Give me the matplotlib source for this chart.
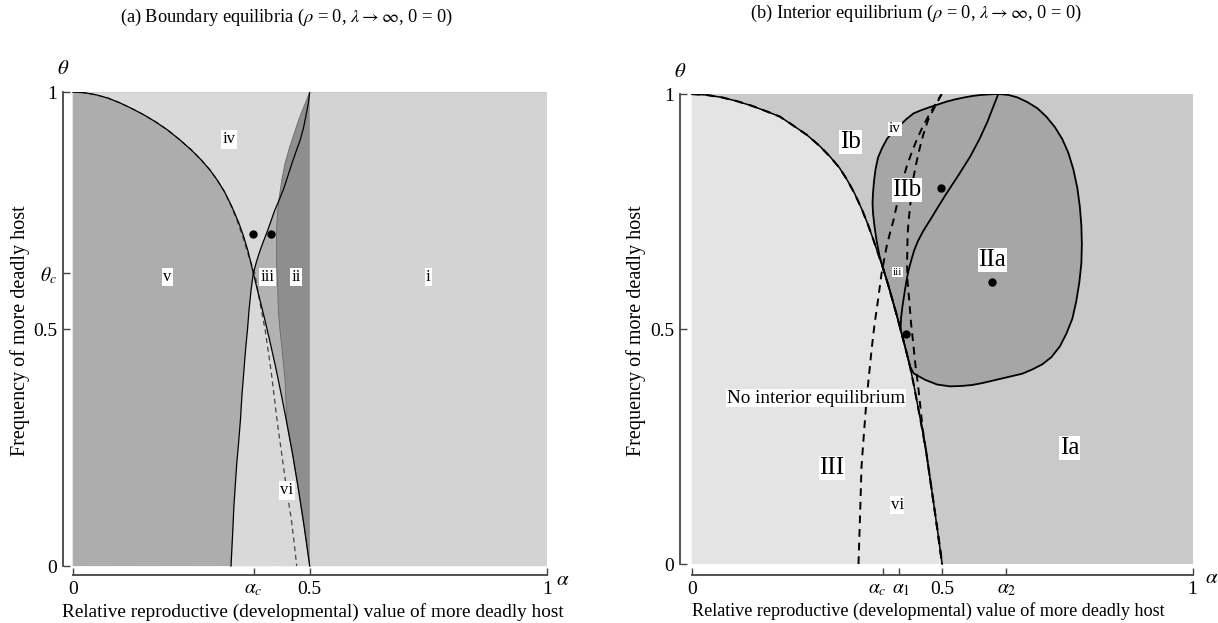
import matplotlib
matplotlib.use('Agg')
import matplotlib.pyplot as plt
from matplotlib.patches import Polygon
from matplotlib.transforms import ScaledTranslation

plt.rcParams['font.family'] = ['Liberation Serif', 'DejaVu Serif']
plt.rcParams['mathtext.fontset'] = 'stix'

# ---------------- data: panel (a) ----------------
# curve A: boundary from (0,1) to (0.5,0)
A_alpha = [0.000, 0.025, 0.050, 0.075, 0.100, 0.125, 0.150, 0.175, 0.200, 0.225, 0.250,
           0.270, 0.290, 0.305, 0.320, 0.335, 0.350, 0.360, 0.370, 0.381,
           0.392, 0.404, 0.416, 0.428, 0.440, 0.452, 0.464, 0.476, 0.488, 0.500]
A_theta = [1.000, 0.9985, 0.994, 0.987, 0.977, 0.965, 0.952, 0.937, 0.920, 0.900, 0.878,
           0.858, 0.835, 0.814, 0.790, 0.760, 0.725, 0.697, 0.664, 0.618,
           0.573, 0.525, 0.474, 0.420, 0.362, 0.300, 0.235, 0.163, 0.085, 0.000]
A_cross = 19  # index of (alpha_c, theta_c)
# curve B: rising boundary from (0.334,0) to (0.5,1)
B_alpha = [0.334, 0.336, 0.338, 0.340, 0.343, 0.346, 0.350, 0.354, 0.357, 0.361, 0.365,
           0.369, 0.372, 0.376, 0.381, 0.388, 0.395, 0.402, 0.409, 0.418, 0.426, 0.435,
           0.444, 0.453, 0.462, 0.471, 0.480, 0.487, 0.492, 0.497, 0.500]
B_theta = [0.000, 0.040, 0.080, 0.125, 0.170, 0.215, 0.260, 0.310, 0.360, 0.410, 0.460,
           0.502, 0.540, 0.580, 0.618, 0.643, 0.665, 0.684, 0.702, 0.727, 0.750, 0.771,
           0.793, 0.820, 0.848, 0.874, 0.899, 0.925, 0.950, 0.976, 1.000]
B_cross = 14
# curve C: left edge of darkest region ii
C_alpha = [0.500, 0.478, 0.458, 0.448, 0.441, 0.436, 0.432, 0.430, 0.430, 0.430, 0.432,
           0.434, 0.437, 0.441, 0.448, 0.452, 0.464, 0.476, 0.488, 0.500]
C_theta = [1.000, 0.945, 0.885, 0.850, 0.814, 0.780, 0.745, 0.710, 0.674, 0.638, 0.603,
           0.534, 0.500, 0.463, 0.392, 0.300, 0.235, 0.163, 0.085, 0.000]
# dashed curve D (runs on top of A in its upper part)
D_alpha = [0.000, 0.025, 0.050, 0.075, 0.100, 0.125, 0.150, 0.175, 0.200, 0.225, 0.250,
           0.270, 0.290, 0.305, 0.320, 0.334, 0.347, 0.358, 0.368, 0.376, 0.384,
           0.390, 0.396, 0.401, 0.406, 0.413, 0.420, 0.426, 0.432, 0.439, 0.446, 0.453,
           0.461, 0.467, 0.4726]
D_theta = [1.000, 0.9985, 0.994, 0.987, 0.977, 0.965, 0.952, 0.937, 0.920, 0.900, 0.878,
           0.858, 0.835, 0.814, 0.790, 0.760, 0.728, 0.697, 0.664, 0.640, 0.618,
           0.584, 0.550, 0.524, 0.498, 0.450, 0.400, 0.350, 0.300, 0.250, 0.200, 0.150,
           0.100, 0.050, 0.000]
dotsL_alpha = [0.381, 0.419]
dotsL_theta = [0.700, 0.700]
labelsL = [("iv", 0.330, 0.900), ("v", 0.200, 0.610), ("iii", 0.411, 0.610),
           ("ii", 0.472, 0.610), ("i", 0.750, 0.610), ("vi", 0.452, 0.160)]
xticksL = [0, 0.382, 0.5, 1]
xtlabL = ["0", r"$\alpha_c$", "0.5", "1"]
yticksL = [0, 0.5, 0.618, 1]
ytlabL = ["0", "0.5", r"$\theta_c$", "1"]

# ---------------- data: panel (b) ----------------
RA_alpha = [0.000, 0.030, 0.060, 0.090, 0.120, 0.150, 0.176, 0.200, 0.230, 0.255, 0.276,
            0.295, 0.310, 0.325, 0.340, 0.352, 0.363, 0.373, 0.383, 0.392, 0.400, 0.409,
            0.418, 0.427, 0.436, 0.444, 0.452, 0.460, 0.468, 0.476, 0.484, 0.492, 0.500]
RA_theta = [1.000, 0.998, 0.993, 0.985, 0.975, 0.963, 0.952, 0.935, 0.913, 0.890, 0.867,
            0.843, 0.818, 0.789, 0.754, 0.722, 0.689, 0.658, 0.626, 0.595, 0.565, 0.531,
            0.495, 0.458, 0.420, 0.378, 0.333, 0.288, 0.240, 0.181, 0.122, 0.062, 0.000]
RB_alpha = [0.333, 0.336, 0.339, 0.344, 0.349, 0.354, 0.359, 0.365, 0.372, 0.379, 0.389,
            0.396, 0.403, 0.413, 0.421, 0.429, 0.439, 0.449, 0.460, 0.472, 0.485, 0.499]
RB_theta = [0.000, 0.100, 0.207, 0.280, 0.349, 0.402, 0.455, 0.510, 0.562, 0.618, 0.675,
            0.705, 0.732, 0.781, 0.815, 0.845, 0.875, 0.902, 0.928, 0.952, 0.976, 1.000]
RC_alpha = [0.499, 0.485, 0.472, 0.463, 0.456, 0.449, 0.443, 0.439, 0.436, 0.433, 0.431,
            0.430, 0.431, 0.434, 0.438, 0.443, 0.447, 0.452, 0.457, 0.461, 0.468, 0.476,
            0.484, 0.492, 0.500]
RC_theta = [1.000, 0.972, 0.945, 0.916, 0.888, 0.856, 0.824, 0.792, 0.760, 0.730, 0.700,
            0.640, 0.600, 0.565, 0.512, 0.462, 0.420, 0.380, 0.330, 0.288, 0.240, 0.181,
            0.122, 0.062, 0.000]
# closed region II (blob), counter-clockwise from the meeting with curve A
blob_alpha = [0.383, 0.375, 0.369, 0.365, 0.362, 0.361, 0.362, 0.364, 0.367, 0.372, 0.380,
              0.390, 0.402, 0.415, 0.429, 0.443, 0.459, 0.475, 0.492, 0.509, 0.527, 0.545,
              0.561, 0.576, 0.590, 0.603, 0.615, 0.633, 0.650, 0.670, 0.690, 0.708, 0.725,
              0.740, 0.752, 0.762, 0.770, 0.775, 0.778, 0.779, 0.778, 0.774, 0.768, 0.760,
              0.748, 0.735, 0.718, 0.700, 0.680, 0.660, 0.640, 0.620, 0.600, 0.580, 0.560,
              0.540, 0.516, 0.490, 0.466, 0.449, 0.443, 0.436, 0.427, 0.418, 0.409, 0.400,
              0.392]
blob_theta = [0.626, 0.655, 0.689, 0.718, 0.746, 0.768, 0.790, 0.815, 0.840, 0.865, 0.885,
              0.905, 0.920, 0.933, 0.947, 0.959, 0.966, 0.972, 0.978, 0.984, 0.989, 0.993,
              0.996, 0.998, 0.999, 1.000, 1.000, 0.998, 0.993, 0.983, 0.970, 0.952, 0.930,
              0.904, 0.875, 0.840, 0.800, 0.760, 0.720, 0.680, 0.640, 0.600, 0.560, 0.522,
              0.490, 0.463, 0.440, 0.425, 0.414, 0.405, 0.400, 0.395, 0.390, 0.385, 0.381,
              0.379, 0.378, 0.382, 0.392, 0.402, 0.406, 0.420, 0.458, 0.495, 0.531, 0.565,
              0.595]
RD_alpha = [0.612, 0.601, 0.590, 0.574, 0.556, 0.533, 0.509, 0.492, 0.476, 0.463, 0.452,
            0.444, 0.438, 0.433, 0.429, 0.425, 0.421, 0.418, 0.417]
RD_theta = [1.000, 0.970, 0.940, 0.903, 0.867, 0.828, 0.789, 0.760, 0.732, 0.710, 0.688,
            0.667, 0.645, 0.625, 0.604, 0.578, 0.550, 0.524, 0.498]
dotsR_alpha = [0.498, 0.600, 0.428]
dotsR_theta = [0.800, 0.600, 0.490]
labelsR = [("Ib", 0.317, 0.898, 18), ("iv", 0.406, 0.926, 11), ("IIb", 0.430, 0.796, 18),
           ("iii", 0.410, 0.621, 8), ("IIa", 0.600, 0.647, 18),
           ("No interior equilibrium", 0.248, 0.353, 13.8), ("III", 0.280, 0.204, 18),
           ("vi", 0.410, 0.125, 12), ("Ia", 0.755, 0.247, 18)]
xticksR = [0, 0.381, 0.413, 0.5, 0.628, 1]
xtlabR = ["0", r"$\alpha_c$", r"$\alpha_1$", "0.5", r"$\alpha_2$", "1"]
yticksR = [0, 0.5, 1]
ytlabR = ["0", "0.5", "1"]

# ---------------- figure ----------------
fig = plt.figure(figsize=(12.18, 6.23), dpi=100)
axL = fig.add_axes([0.0515, 0.077, 0.3974, 0.7753])
axR = fig.add_axes([0.5583, 0.077, 0.4208, 0.772])


def style(ax, xmin, ymin, xt, xl, yt, yl):
    ax.set_xlim(xmin, 1.0)
    ax.set_ylim(ymin, 1.0)
    for s in ['top', 'right']:
        ax.spines[s].set_visible(False)
    for s in ['left', 'bottom']:
        ax.spines[s].set_bounds(0, 1)
        ax.spines[s].set_color('#444444')
        ax.spines[s].set_linewidth(1.3)
    ax.set_xticks(xt)
    ax.set_xticklabels(xl)
    ax.set_yticks(yt)
    ax.set_yticklabels(yl)
    ax.tick_params(direction='in', length=5, width=1.0, color='#444444',
                   labelsize=14, pad=4)
    ax.patch.set_visible(False)


def poly(ax, xs, ys, color, z=1):
    ax.add_patch(Polygon(list(zip(xs, ys)), closed=True, facecolor=color,
                         edgecolor='none', zorder=z))


# ---- panel (a) ----
style(axL, -0.021, -0.019, xticksL, xtlabL, yticksL, ytlabL)
poly(axL, [0, 0.5, 0.5, 0], [0, 0, 1, 1], '#d9d9d9', 0.5)
poly(axL, [0.5, 1, 1, 0.5], [0, 0, 1, 1], '#d3d3d3', 0.6)
# region v
vx = [0] + A_alpha[:A_cross + 1] + B_alpha[:B_cross + 1][::-1]
vy = [0] + A_theta[:A_cross + 1] + B_theta[:B_cross + 1][::-1]
poly(axL, vx, vy, '#adadad', 1)
# region right of A and B (iii)
rx = B_alpha[B_cross:] + [0.5] + A_alpha[A_cross:][::-1]
ry = B_theta[B_cross:] + [0.0] + A_theta[A_cross:][::-1]
poly(axL, rx, ry, '#b2b2b2', 1)
# region ii
poly(axL, C_alpha + [0.5], C_theta + [1.0], '#8e8e8e', 1.2)
axL.plot(C_alpha, C_theta, color='#6a6a6a', lw=0.6, zorder=2)
# dotted frame artefacts
axL.plot([0, 1], [1, 1], color='#bdbdbd', lw=0.6, ls=(0, (1, 1.5)), zorder=1.5)
axL.plot([0, 0], [0, 1], color='#bdbdbd', lw=0.6, ls=(0, (1, 1.5)), zorder=1.5)
axL.plot([0, 1], [0, 0], color='#e0e0e0', lw=0.6, ls=(0, (1, 1.5)), zorder=1.5)
axL.plot(D_alpha, D_theta, color='#444444', lw=0.9, ls=(0, (4, 3)), zorder=3)
axL.plot(A_alpha, A_theta, color='black', lw=0.9, zorder=3)
axL.plot(B_alpha, B_theta, color='black', lw=0.9, zorder=3)
axL.plot(dotsL_alpha, dotsL_theta, 'o', color='black', ms=5, zorder=4)
for t, x, y in labelsL:
    axL.text(x, y, t, ha='center', va='center', fontsize=12, zorder=5,
             bbox=dict(facecolor='white', edgecolor='none', pad=1.0))
axL.text(1.034, -0.03, r"$\alpha$", fontsize=15, ha='center', va='center',
         transform=axL.transData, clip_on=False)
axL.text(-0.021, 1.048, r"$\theta$", fontsize=15, ha='center', va='center',
         transform=axL.transData, clip_on=False)

# ---- panel (b) ----
style(axR, -0.0234, -0.0234, xticksR, xtlabR, yticksR, ytlabR)
# small shifts of the crowded alpha_c / alpha_1 labels, as in the original
for lab, dx in zip(axR.get_xticklabels(), [0, -4, 2, 0, 0, 0]):
    lab.set_transform(lab.get_transform() + ScaledTranslation(dx / 72, 0, fig.dpi_scale_trans))
poly(axR, [0, 1, 1, 0], [0, 0, 1, 1], '#c9c9c9', 0.5)
poly(axR, [0] + RA_alpha, [0] + RA_theta, '#e4e4e4', 1)
poly(axR, blob_alpha, blob_theta, '#a6a6a6', 1.2)
axR.plot(blob_alpha + blob_alpha[:1], blob_theta + blob_theta[:1], color='black',
         lw=1.3, zorder=3)
axR.plot(RD_alpha, RD_theta, color='black', lw=1.3, zorder=3)
axR.plot(RA_alpha, RA_theta, color='black', lw=1.1, zorder=3)
axR.plot(RA_alpha, RA_theta, color='black', lw=1.5, ls=(0, (4, 3)), zorder=3)
axR.plot(RB_alpha, RB_theta, color='black', lw=1.4, ls=(0, (4, 3)), zorder=3)
axR.plot(RC_alpha, RC_theta, color='black', lw=1.4, ls=(0, (4, 3)), zorder=3)
axR.plot(dotsR_alpha, dotsR_theta, 'o', color='black', ms=5, zorder=4)
for t, x, y, fs in labelsR:
    axR.text(x, y, t, ha='center', va='center', fontsize=fs, zorder=5,
             bbox=dict(facecolor='white', edgecolor='none', pad=0.6))
axR.text(1.039, -0.03, r"$\alpha$", fontsize=15, ha='center', va='center',
         transform=axR.transData, clip_on=False)
axR.text(-0.0234, 1.045, r"$\theta$", fontsize=15, ha='center', va='center',
         transform=axR.transData, clip_on=False)

# ---- titles and axis labels ----
fig.text(286 / 1218, 1 - 17 / 623,
         r"(a) Boundary equilibria ($\rho$ = 0, $\lambda \rightarrow \infty$, 0 = 0)",
         ha='center', va='center', fontsize=13.2)
fig.text(916 / 1218, 1 - 13 / 623,
         r"(b) Interior equilibrium ($\rho$ = 0, $\lambda \rightarrow \infty$, 0 = 0)",
         ha='center', va='center', fontsize=13.2)
fig.text(313 / 1218, 1 - 612 / 623,
         "Relative reproductive (developmental) value of more deadly host",
         ha='center', va='center', fontsize=13.9)
fig.text(928 / 1218, 1 - 611 / 623,
         "Relative reproductive (developmental) value of more deadly host",
         ha='center', va='center', fontsize=13.1)
fig.text(20 / 1218, 1 - 331 / 623, "Frequency of more deadly host", rotation=90,
         ha='center', va='center', fontsize=14.5)
fig.text(636 / 1218, 1 - 331 / 623, "Frequency of more deadly host", rotation=90,
         ha='center', va='center', fontsize=14.5)

fig.savefig('out.png', dpi=100)
